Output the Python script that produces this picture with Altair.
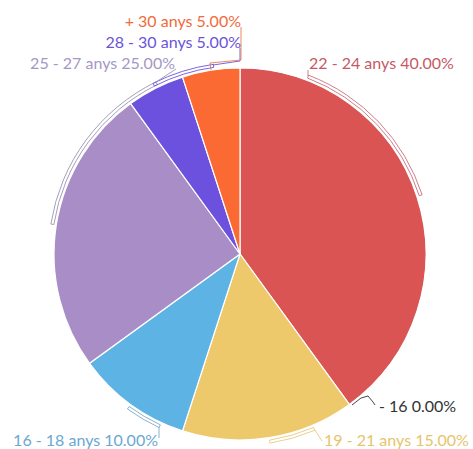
import math
import altair as alt
import pandas as pd

# ---- data ----
categories = ["22 - 24 anys", "- 16", "19 - 21 anys", "16 - 18 anys", "25 - 27 anys", "28 - 30 anys", "+ 30 anys"]
values = [40, 0, 15, 10, 25, 5, 5]
slice_colors = ["#DA5454", "#BBBBBB", "#EDC96B", "#5DB4E4", "#A98DC6", "#6B51DE", "#FC6A34"]
label_colors = ["#C55A66", "#333333", "#E6C46B", "#6AA8D2", "#A697C4", "#6A55D9", "#F26A3A"]
bracket_colors = ["#C8707A", "#333333", "#E8CB80", "#7FA9C8", "#9C93B4", "#6A55D9", "#E87A50"]

# ---- layout (styling, not data) ----
R = 186
CX, CY = 240, 254
label_dx = [69, 139, 84, -82, -65, 1, 1]
label_dy = [-190, 153, 187, 187, -190, -211, -232]
label_align = ["left", "left", "left", "right", "right", "right", "right"]
# bracket spans (degrees clockwise from 12 o'clock); None = no bracket
bracket_span = [(21, 72), None, (157, 171), (205, 216), (279, 334), (333, 352), None]
leaders = [
    [(68, -178), (68, -184)],
    [(112, 151), (121, 144), (128, 142), (133, 148), (135, 151)],
    [(75, 176), (82, 187)],
    [(-81, 173), (-81, 184)],
    [(-84, -172), (-64, -185)],
    [(-27, -189), (0, -193), (0, -206)],
    [(-29, -184), (-30, -191), (1, -194), (1, -227)],
]

total = sum(values)
rows = []
start = 0.0
for i, (c, v) in enumerate(zip(categories, values)):
    ang = v / total * 360.0
    rows.append({"cat": c, "val": v, "order": i, "a0": start, "a1": start + ang,
                 "fill": slice_colors[i], "lcol": label_colors[i], "bcol": bracket_colors[i],
                 "label": f"{c} {v:.2f}%",
                 "lx": CX + label_dx[i], "ly": CY + label_dy[i], "align": label_align[i]})
    start += ang
df = pd.DataFrame(rows)

brows = []
for i, span in enumerate(bracket_span):
    if span is not None:
        brows.append({"cat": categories[i], "b0": span[0], "b1": span[1], "bcol": bracket_colors[i]})
bdf = pd.DataFrame(brows)

line_rows = []
for i, pts in enumerate(leaders):
    for j, (dx, dy) in enumerate(pts):
        line_rows.append({"cat": categories[i], "k": j, "x": CX + dx, "y": CY + dy,
                          "bcol": bracket_colors[i]})
ldf = pd.DataFrame(line_rows)

theta_scale = alt.Scale(domain=[0, 360], range=[0, 2 * math.pi])

pie = alt.Chart(df[df["val"] > 0]).mark_arc(radius=R, stroke="white", strokeWidth=1.2).encode(
    theta=alt.Theta("a0:Q", scale=theta_scale),
    theta2="a1:Q",
    fill=alt.Fill("fill:N", scale=None),
    x=alt.value(CX),
    y=alt.value(CY),
)

brackets = alt.Chart(bdf).mark_arc(
    radius=R + 2.5, radius2=R + 5.5, fillOpacity=0, strokeWidth=0.9
).encode(
    theta=alt.Theta("b0:Q", scale=theta_scale),
    theta2="b1:Q",
    stroke=alt.Stroke("bcol:N", scale=None),
    x=alt.value(CX),
    y=alt.value(CY),
)

lines = alt.Chart(ldf).mark_line(strokeWidth=0.9).encode(
    x=alt.X("x:Q", scale=None),
    y=alt.Y("y:Q", scale=None),
    detail="cat:N",
    order="k:Q",
    stroke=alt.Stroke("bcol:N", scale=None),
)

def text_layer(align):
    sub = df[df["align"] == align]
    return alt.Chart(sub).mark_text(align=align, baseline="middle", font="Lato", fontSize=16).encode(
        x=alt.X("lx:Q", scale=None),
        y=alt.Y("ly:Q", scale=None),
        text="label:N",
        fill=alt.Fill("lcol:N", scale=None),
    )

chart = alt.layer(pie, brackets, lines, text_layer("left"), text_layer("right")).properties(
    width=473, height=449, padding=0, autosize=alt.AutoSizeParams(type="none")
).configure_view(stroke=None)

chart.save("out.html", embed_options={"renderer": "svg", "actions": False})
